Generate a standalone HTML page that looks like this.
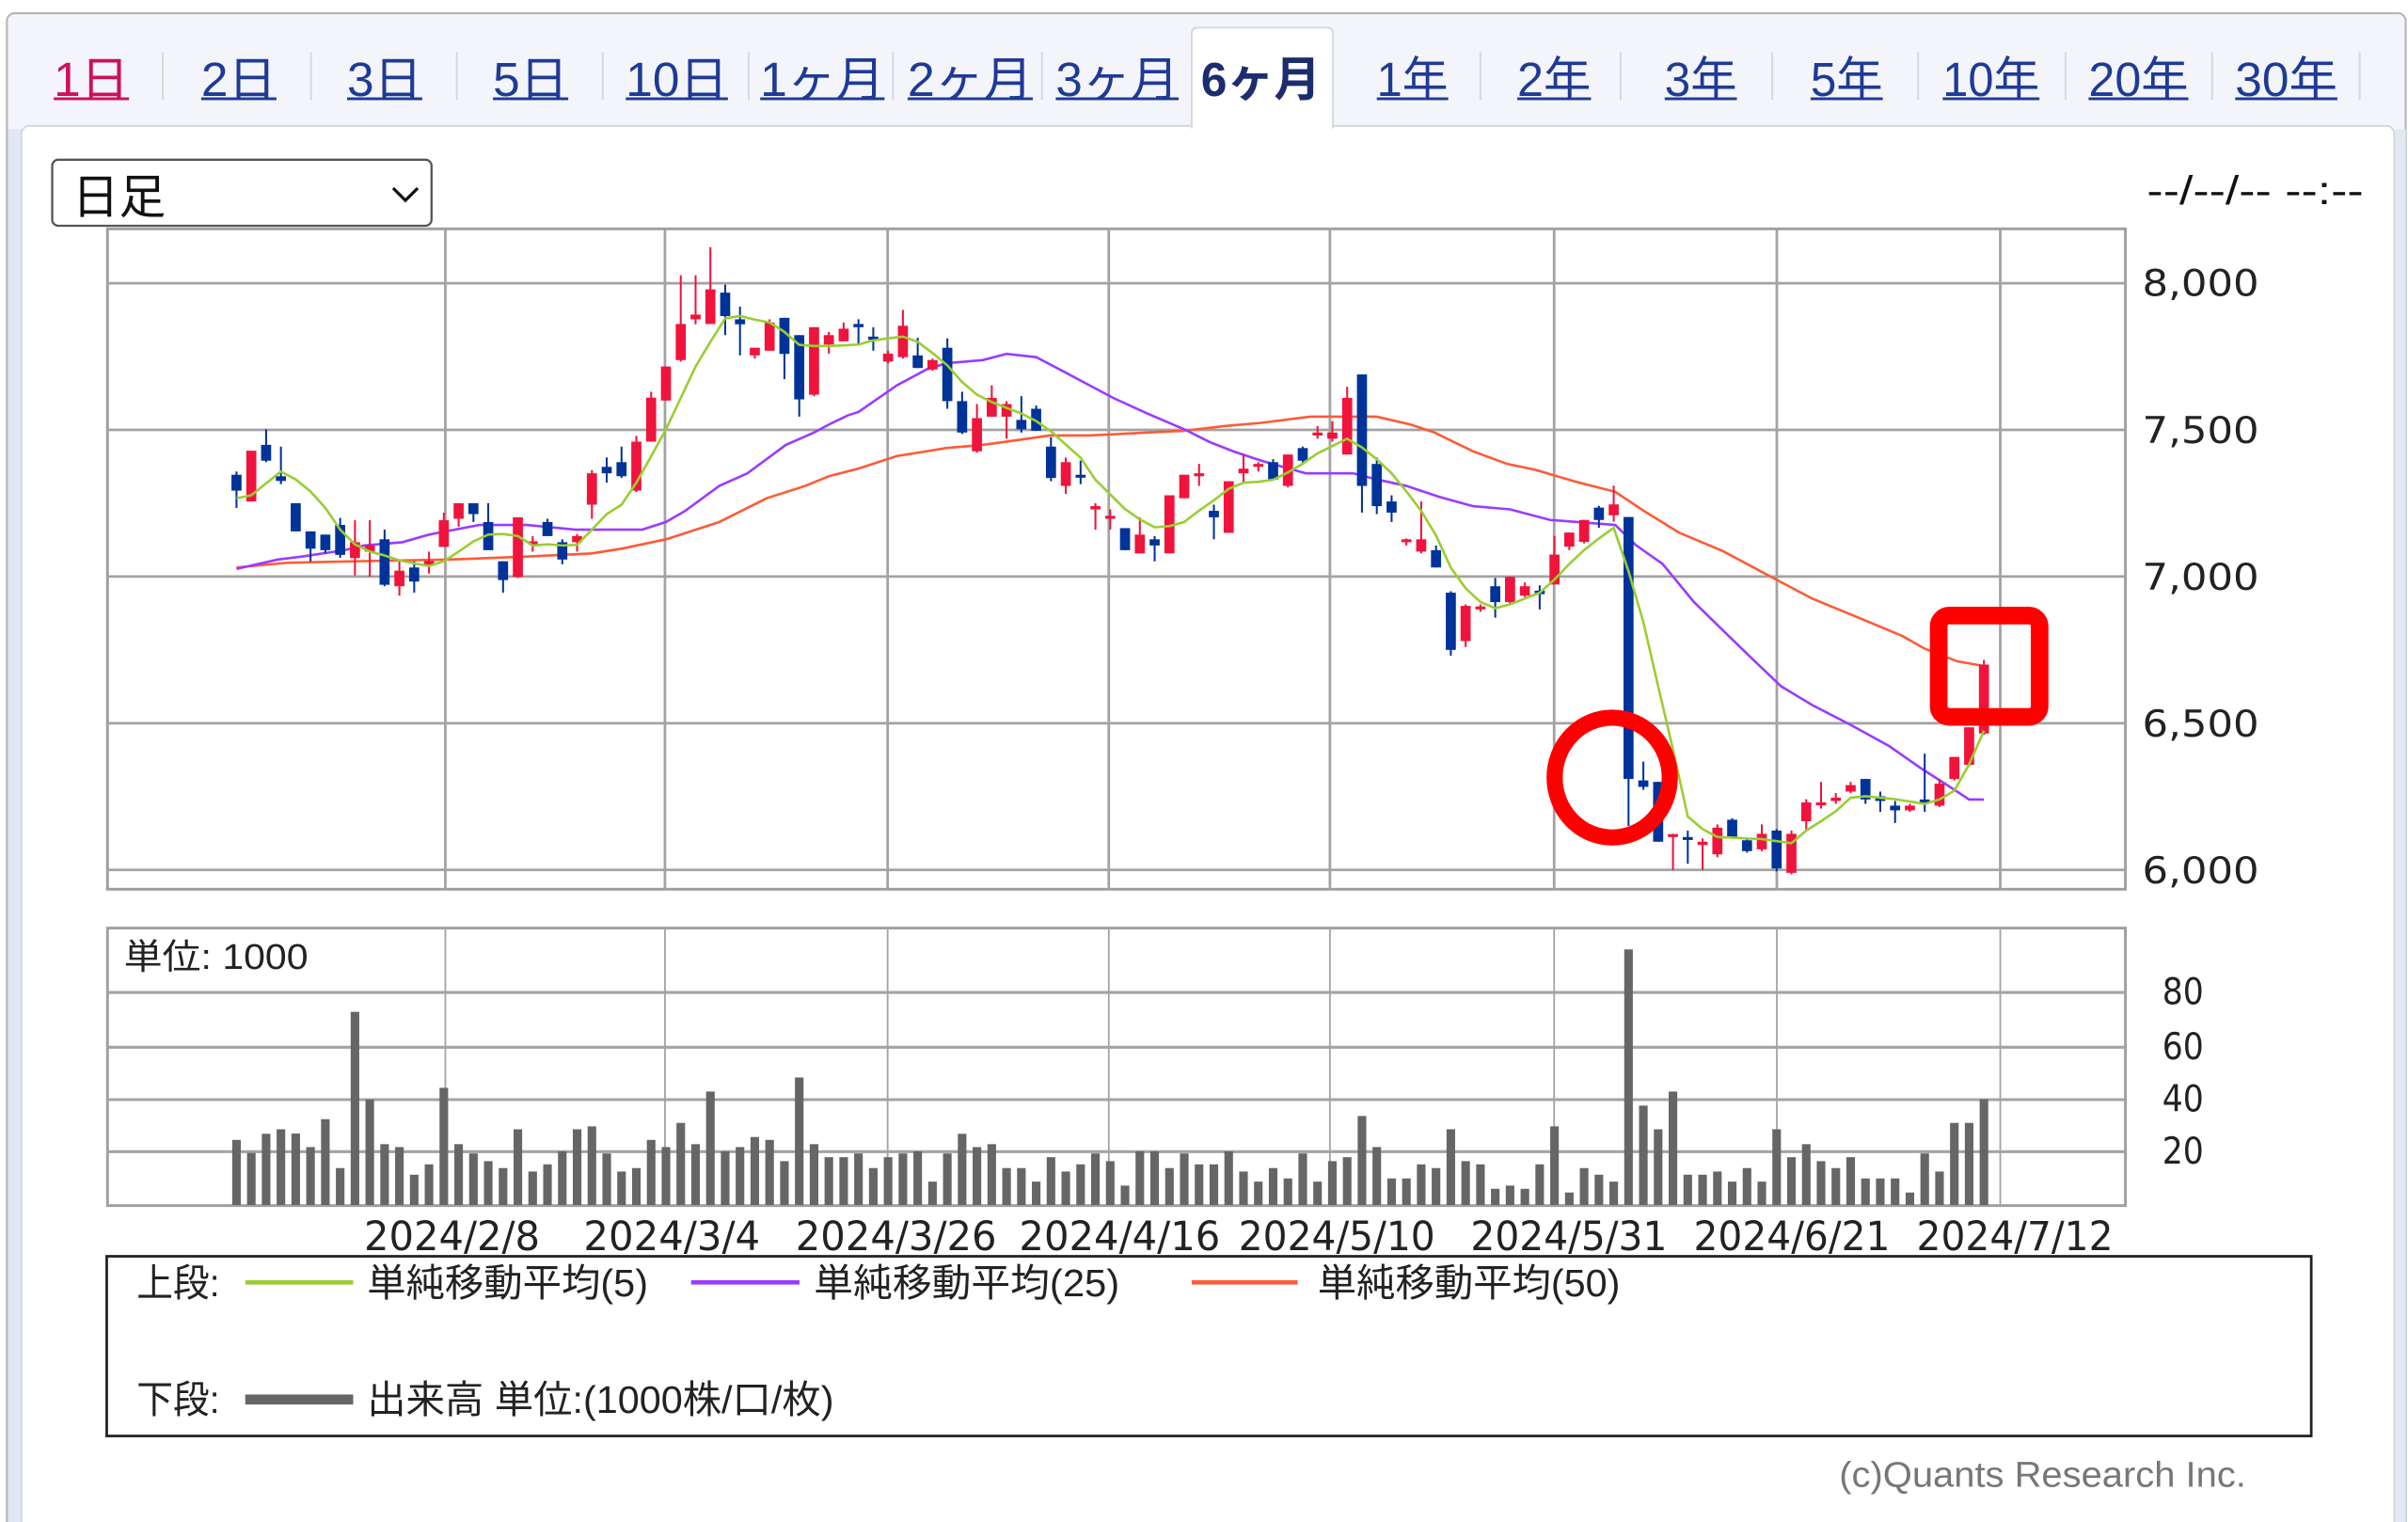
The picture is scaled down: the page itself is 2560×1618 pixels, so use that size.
<!DOCTYPE html>
<html><head><meta charset="utf-8"><style>
html,body{margin:0;padding:0;background:#fff;}
svg{display:block;}
.t{font-family:"Liberation Sans","Noto Sans CJK JP",sans-serif;}
.n{font-family:"DejaVu Sans","Liberation Sans",sans-serif;}
</style></head><body>
<svg width="2560" height="1618" viewBox="0 0 1568 991" xmlns="http://www.w3.org/2000/svg">
<rect x="0" y="0" width="1568" height="991" fill="#fff"/>
<rect x="4.5" y="8.6" width="1562" height="1000" rx="5" fill="#f3f5fa" stroke="#b5b5b5" stroke-width="1.3"/>
<rect x="5.2" y="84" width="8.8" height="910" fill="#dfe7f4"/>
<rect x="1559" y="84" width="7.6" height="910" fill="#e3e9f4"/>
<rect x="14" y="82" width="1545" height="930" rx="5" fill="#fff" stroke="#d3d8e0" stroke-width="1.2"/>
<path d="M776,83 L776,22 Q776,18 780,18 L864,18 Q868,18 868,22 L868,83 Z" fill="#fff" stroke="#d6d9e0" stroke-width="1.2"/>
<rect x="776.7" y="80" width="90.6" height="5" fill="#fff"/>
<g stroke="#d7d9de" stroke-width="1.3">
<line x1="106" y1="34" x2="106" y2="65"/><line x1="202.5" y1="34" x2="202.5" y2="65"/><line x1="297.5" y1="34" x2="297.5" y2="65"/><line x1="392.5" y1="34" x2="392.5" y2="65"/><line x1="487.5" y1="34" x2="487.5" y2="65"/><line x1="581.5" y1="34" x2="581.5" y2="65"/><line x1="678.5" y1="34" x2="678.5" y2="65"/><line x1="964" y1="34" x2="964" y2="65"/><line x1="1055.3" y1="34" x2="1055.3" y2="65"/><line x1="1154" y1="34" x2="1154" y2="65"/><line x1="1249" y1="34" x2="1249" y2="65"/><line x1="1345" y1="34" x2="1345" y2="65"/><line x1="1440.5" y1="34" x2="1440.5" y2="65"/><line x1="1536.5" y1="34" x2="1536.5" y2="65"/>
</g>
<g class="t" font-size="31">
<text x="35" y="62.5" textLength="49" lengthAdjust="spacingAndGlyphs" fill="#cc1157">1日</text>
<rect x="35" y="63.4" width="49" height="1.8" fill="#cc1157"/>
<g fill="#1f3a96">
<text x="131" y="62.5" textLength="49" lengthAdjust="spacingAndGlyphs">2日</text><rect x="131" y="63.4" width="49" height="1.8"/>
<text x="226" y="62.5" textLength="49" lengthAdjust="spacingAndGlyphs">3日</text><rect x="226" y="63.4" width="49" height="1.8"/>
<text x="321" y="62.5" textLength="49" lengthAdjust="spacingAndGlyphs">5日</text><rect x="321" y="63.4" width="49" height="1.8"/>
<text x="407.5" y="62.5" textLength="66.5" lengthAdjust="spacingAndGlyphs">10日</text><rect x="407.5" y="63.4" width="66.5" height="1.8"/>
<text x="495" y="62.5" textLength="81" lengthAdjust="spacingAndGlyphs">1ヶ月</text><rect x="495" y="63.4" width="81" height="1.8"/>
<text x="591" y="62.5" textLength="81.5" lengthAdjust="spacingAndGlyphs">2ヶ月</text><rect x="591" y="63.4" width="81.5" height="1.8"/>
<text x="687.5" y="62.5" textLength="80" lengthAdjust="spacingAndGlyphs">3ヶ月</text><rect x="687.5" y="63.4" width="80" height="1.8"/>
<text x="896.5" y="62.5" textLength="46.5" lengthAdjust="spacingAndGlyphs">1年</text><rect x="896.5" y="63.4" width="46.5" height="1.8"/>
<text x="988" y="62.5" textLength="48" lengthAdjust="spacingAndGlyphs">2年</text><rect x="988" y="63.4" width="48" height="1.8"/>
<text x="1084" y="62.5" textLength="47" lengthAdjust="spacingAndGlyphs">3年</text><rect x="1084" y="63.4" width="47" height="1.8"/>
<text x="1179" y="62.5" textLength="47" lengthAdjust="spacingAndGlyphs">5年</text><rect x="1179" y="63.4" width="47" height="1.8"/>
<text x="1265" y="62.5" textLength="63" lengthAdjust="spacingAndGlyphs">10年</text><rect x="1265" y="63.4" width="63" height="1.8"/>
<text x="1360" y="62.5" textLength="65" lengthAdjust="spacingAndGlyphs">20年</text><rect x="1360" y="63.4" width="65" height="1.8"/>
<text x="1455.5" y="62.5" textLength="66.5" lengthAdjust="spacingAndGlyphs">30年</text><rect x="1455.5" y="63.4" width="66.5" height="1.8"/>
</g>
<text x="782" y="62.5" textLength="78" lengthAdjust="spacingAndGlyphs" fill="#1b2d6e" font-weight="bold">6ヶ月</text>
</g>
<rect x="34" y="104" width="247" height="43" rx="4" fill="#fff" stroke="#555" stroke-width="1.4"/>
<text class="t" x="47" y="139" font-size="31" fill="#111" textLength="61" lengthAdjust="spacingAndGlyphs">日足</text>
<polyline points="256,122.5 264,130.5 272,122.5" fill="none" stroke="#111" stroke-width="2"/>
<text class="t" x="1398" y="133" font-size="26" fill="#111" textLength="141" lengthAdjust="spacingAndGlyphs">--/--/-- --:--</text>
<rect x="70" y="149" width="1314" height="430" fill="#fff" stroke="#9f9f9f" stroke-width="1.8"/>
<g stroke="#a3a3a3" stroke-width="1.7">
<line x1="70" y1="184.4" x2="1384" y2="184.4"/><line x1="70" y1="279.9" x2="1384" y2="279.9"/><line x1="70" y1="375.4" x2="1384" y2="375.4"/><line x1="70" y1="470.9" x2="1384" y2="470.9"/><line x1="70" y1="566.4" x2="1384" y2="566.4"/>
<line x1="290" y1="149" x2="290" y2="579"/><line x1="433" y1="149" x2="433" y2="579"/><line x1="578" y1="149" x2="578" y2="579"/><line x1="722" y1="149" x2="722" y2="579"/><line x1="866" y1="149" x2="866" y2="579"/><line x1="1012" y1="149" x2="1012" y2="579"/><line x1="1157" y1="149" x2="1157" y2="579"/><line x1="1302.5" y1="149" x2="1302.5" y2="579"/>
</g>
<g class="n" font-size="24" fill="#222">
<text x="1395" y="192.7" textLength="76" lengthAdjust="spacingAndGlyphs">8,000</text>
<text x="1395" y="288.6" textLength="76" lengthAdjust="spacingAndGlyphs">7,500</text>
<text x="1395" y="384.1" textLength="76" lengthAdjust="spacingAndGlyphs">7,000</text>
<text x="1395" y="479.6" textLength="76" lengthAdjust="spacingAndGlyphs">6,500</text>
<text x="1395" y="575.1" textLength="76" lengthAdjust="spacingAndGlyphs">6,000</text>
</g>
<g transform="translate(154,375.4) scale(9.643,-0.191) translate(0,-7000)">
<polyline fill="none" stroke="#ff5a36" stroke-width="2.6" vector-effect="non-scaling-stroke" points="0,7031 3.4,7047 8,7052 14.4,7058 19.6,7068 24,7079 26,7095 29,7127 32.6,7186 35.8,7267 38.4,7309 40,7342 42,7368 44.6,7411 46.6,7427 47.9,7438 50.4,7449 52.7,7465 54.9,7481 57.6,7481 61.5,7491 64,7497 66.7,7513 69.2,7524 72.5,7545 75.4,7545 77,7545 79.3,7518 80.9,7491 83.5,7427 85.8,7384 87.7,7364 90.6,7321 93.1,7289 95,7225 97.4,7150 100.4,7086 104,6989 106.4,6925 110,6850 112.5,6797 114,6754 116.2,6711 118,6695"/>
<polyline fill="none" stroke="#9b3bff" stroke-width="2.6" vector-effect="non-scaling-stroke" points="0,7026 2.8,7058 4.4,7068 7.3,7090 8.6,7106 11.2,7117 13,7143 16.4,7176 19.6,7176 22.9,7160 27.4,7160 29,7186 30.3,7224 32.6,7309 34.5,7352 37.1,7449 39,7491 40,7518 41.3,7550 42,7561 44.6,7652 46.6,7706 47.9,7727 50.4,7738 52,7759 54,7748 56,7695 59.2,7609 61.5,7556 64,7502 65.7,7459 67.3,7427 69.2,7395 72.2,7352 75.4,7352 77,7331 79,7309 81.2,7272 83.5,7240 86,7229 88.7,7193 93.1,7176 94.5,7107 96.3,7043 98.4,6914 99.9,6840 102.3,6722 104.3,6626 106.4,6562 108.9,6497 111.6,6422 113.7,6348 115.7,6283 117,6240 118,6240"/>
<g fill="#f0143c">
<rect x="0.935" y="7256" width="0.13" height="173"/><rect x="0.66" y="7256" width="0.68" height="173"/>
<rect x="7.935" y="7004" width="0.13" height="188"/><rect x="7.66" y="7063" width="0.68" height="54"/>
<rect x="8.935" y="7000" width="0.13" height="192"/><rect x="8.66" y="7085" width="0.68" height="21"/>
<rect x="10.935" y="6935" width="0.13" height="117"/><rect x="10.66" y="6967" width="0.68" height="53"/>
<rect x="12.935" y="7010" width="0.13" height="75"/><rect x="12.66" y="7037" width="0.68" height="16"/>
<rect x="13.935" y="7101" width="0.13" height="117"/><rect x="13.66" y="7101" width="0.68" height="91"/>
<rect x="14.935" y="7170" width="0.13" height="80"/><rect x="14.66" y="7197" width="0.68" height="53"/>
<rect x="18.935" y="6995" width="0.13" height="207"/><rect x="18.66" y="6999" width="0.68" height="203"/>
<rect x="19.935" y="7085" width="0.13" height="53"/><rect x="19.66" y="7110" width="0.68" height="10"/>
<rect x="22.935" y="7085" width="0.13" height="60"/><rect x="22.66" y="7117" width="0.68" height="21"/>
<rect x="23.935" y="7197" width="0.13" height="166"/><rect x="23.66" y="7245" width="0.68" height="107"/>
<rect x="26.935" y="7288" width="0.13" height="192"/><rect x="26.66" y="7293" width="0.68" height="167"/>
<rect x="27.935" y="7460" width="0.13" height="170"/><rect x="27.66" y="7460" width="0.68" height="150"/>
<rect x="28.935" y="7600" width="0.13" height="116"/><rect x="28.66" y="7600" width="0.68" height="116"/>
<rect x="29.935" y="7733" width="0.13" height="294"/><rect x="29.66" y="7738" width="0.68" height="123"/>
<rect x="30.935" y="7860" width="0.13" height="167"/><rect x="30.66" y="7877" width="0.68" height="16"/>
<rect x="31.935" y="7861" width="0.13" height="262"/><rect x="31.66" y="7861" width="0.68" height="118"/>
<rect x="34.935" y="7743" width="0.13" height="37"/><rect x="34.66" y="7754" width="0.68" height="26"/>
<rect x="35.935" y="7770" width="0.13" height="107"/><rect x="35.66" y="7770" width="0.68" height="96"/>
<rect x="38.935" y="7615" width="0.13" height="235"/><rect x="38.66" y="7620" width="0.68" height="230"/>
<rect x="39.935" y="7760" width="0.13" height="74"/><rect x="39.66" y="7791" width="0.68" height="32"/>
<rect x="40.935" y="7802" width="0.13" height="64"/><rect x="40.66" y="7802" width="0.68" height="43"/>
<rect x="43.935" y="7727" width="0.13" height="43"/><rect x="43.66" y="7733" width="0.68" height="27"/>
<rect x="44.935" y="7743" width="0.13" height="166"/><rect x="44.66" y="7748" width="0.68" height="107"/>
<rect x="46.935" y="7701" width="0.13" height="42"/><rect x="46.66" y="7706" width="0.68" height="32"/>
<rect x="49.935" y="7422" width="0.13" height="166"/><rect x="49.66" y="7427" width="0.68" height="113"/>
<rect x="50.935" y="7545" width="0.13" height="107"/><rect x="50.66" y="7545" width="0.68" height="64"/>
<rect x="51.935" y="7470" width="0.13" height="128"/><rect x="51.66" y="7545" width="0.68" height="43"/>
<rect x="55.935" y="7282" width="0.13" height="124"/><rect x="55.66" y="7309" width="0.68" height="81"/>
<rect x="57.935" y="7160" width="0.13" height="90"/><rect x="57.66" y="7229" width="0.68" height="11"/>
<rect x="58.935" y="7160" width="0.13" height="69"/><rect x="58.66" y="7197" width="0.68" height="10"/>
<rect x="60.935" y="7079" width="0.13" height="123"/><rect x="60.66" y="7079" width="0.68" height="64"/>
<rect x="62.935" y="7079" width="0.13" height="198"/><rect x="62.66" y="7079" width="0.68" height="198"/>
<rect x="63.935" y="7267" width="0.13" height="80"/><rect x="63.66" y="7267" width="0.68" height="80"/>
<rect x="64.935" y="7309" width="0.13" height="75"/><rect x="64.66" y="7342" width="0.68" height="10"/>
<rect x="66.935" y="7149" width="0.13" height="176"/><rect x="66.66" y="7149" width="0.68" height="176"/>
<rect x="67.935" y="7320" width="0.13" height="96"/><rect x="67.66" y="7352" width="0.68" height="16"/>
<rect x="68.935" y="7358" width="0.13" height="32"/><rect x="68.66" y="7374" width="0.68" height="10"/>
<rect x="70.935" y="7304" width="0.13" height="112"/><rect x="70.66" y="7309" width="0.68" height="107"/>
<rect x="72.935" y="7470" width="0.13" height="43"/><rect x="72.66" y="7481" width="0.68" height="10"/>
<rect x="73.935" y="7460" width="0.13" height="70"/><rect x="73.66" y="7470" width="0.68" height="21"/>
<rect x="74.935" y="7416" width="0.13" height="231"/><rect x="74.66" y="7416" width="0.68" height="193"/>
<rect x="78.935" y="7106" width="0.13" height="24"/><rect x="78.66" y="7117" width="0.68" height="10"/>
<rect x="79.935" y="7079" width="0.13" height="177"/><rect x="79.66" y="7085" width="0.68" height="42"/>
<rect x="82.935" y="6760" width="0.13" height="145"/><rect x="82.66" y="6780" width="0.68" height="120"/>
<rect x="83.935" y="6880" width="0.13" height="25"/><rect x="83.66" y="6888" width="0.68" height="10"/>
<rect x="85.935" y="6905" width="0.13" height="95"/><rect x="85.66" y="6913" width="0.68" height="86"/>
<rect x="86.935" y="6930" width="0.13" height="50"/><rect x="86.66" y="6935" width="0.68" height="32"/>
<rect x="88.935" y="6973" width="0.13" height="166"/><rect x="88.66" y="6973" width="0.68" height="102"/>
<rect x="89.935" y="7090" width="0.13" height="60"/><rect x="89.66" y="7102" width="0.68" height="48"/>
<rect x="90.935" y="7113" width="0.13" height="80"/><rect x="90.66" y="7118" width="0.68" height="75"/>
<rect x="92.935" y="7187" width="0.13" height="123"/><rect x="92.66" y="7209" width="0.68" height="37"/>
<rect x="96.935" y="6000" width="0.13" height="123"/><rect x="96.66" y="6112" width="0.68" height="10"/>
<rect x="98.935" y="6000" width="0.13" height="107"/><rect x="98.66" y="6085" width="0.68" height="11"/>
<rect x="99.935" y="6043" width="0.13" height="112"/><rect x="99.66" y="6053" width="0.68" height="91"/>
<rect x="102.935" y="6064" width="0.13" height="91"/><rect x="102.66" y="6070" width="0.68" height="53"/>
<rect x="104.935" y="5985" width="0.13" height="149"/><rect x="104.66" y="5990" width="0.68" height="133"/>
<rect x="105.935" y="6134" width="0.13" height="107"/><rect x="105.66" y="6166" width="0.68" height="64"/>
<rect x="106.935" y="6209" width="0.13" height="91"/><rect x="106.66" y="6220" width="0.68" height="10"/>
<rect x="107.935" y="6225" width="0.13" height="37"/><rect x="107.66" y="6235" width="0.68" height="11"/>
<rect x="108.935" y="6262" width="0.13" height="38"/><rect x="108.66" y="6267" width="0.68" height="22"/>
<rect x="112.935" y="6198" width="0.13" height="27"/><rect x="112.66" y="6203" width="0.68" height="16"/>
<rect x="114.935" y="6214" width="0.13" height="96"/><rect x="114.66" y="6219" width="0.68" height="75"/>
<rect x="115.935" y="6305" width="0.13" height="80"/><rect x="115.66" y="6310" width="0.68" height="75"/>
<rect x="116.935" y="6353" width="0.13" height="133"/><rect x="116.66" y="6358" width="0.68" height="128"/>
<rect x="117.935" y="6460" width="0.13" height="256"/><rect x="117.66" y="6465" width="0.68" height="235"/>
</g>
<g fill="#003399">
<rect x="-0.065" y="7234" width="0.13" height="124"/><rect x="-0.34" y="7293" width="0.68" height="54"/>
<rect x="1.935" y="7390" width="0.13" height="112"/><rect x="1.66" y="7395" width="0.68" height="54"/>
<rect x="2.935" y="7315" width="0.13" height="128"/><rect x="2.66" y="7326" width="0.68" height="16"/>
<rect x="3.935" y="7154" width="0.13" height="96"/><rect x="3.66" y="7154" width="0.68" height="96"/>
<rect x="4.935" y="7052" width="0.13" height="102"/><rect x="4.66" y="7095" width="0.68" height="59"/>
<rect x="5.935" y="7080" width="0.13" height="63"/><rect x="5.66" y="7090" width="0.68" height="53"/>
<rect x="6.935" y="7064" width="0.13" height="136"/><rect x="6.66" y="7074" width="0.68" height="102"/>
<rect x="9.935" y="6967" width="0.13" height="193"/><rect x="9.66" y="6972" width="0.68" height="155"/>
<rect x="11.935" y="6945" width="0.13" height="107"/><rect x="11.66" y="6983" width="0.68" height="48"/>
<rect x="15.935" y="7186" width="0.13" height="64"/><rect x="15.66" y="7213" width="0.68" height="37"/>
<rect x="16.935" y="7090" width="0.13" height="160"/><rect x="16.66" y="7090" width="0.68" height="96"/>
<rect x="17.935" y="6945" width="0.13" height="107"/><rect x="17.66" y="6988" width="0.68" height="64"/>
<rect x="20.935" y="7138" width="0.13" height="59"/><rect x="20.66" y="7138" width="0.68" height="48"/>
<rect x="21.935" y="7042" width="0.13" height="85"/><rect x="21.66" y="7058" width="0.68" height="59"/>
<rect x="24.935" y="7320" width="0.13" height="86"/><rect x="24.66" y="7352" width="0.68" height="22"/>
<rect x="25.935" y="7336" width="0.13" height="107"/><rect x="25.66" y="7342" width="0.68" height="48"/>
<rect x="32.935" y="7823" width="0.13" height="172"/><rect x="32.66" y="7888" width="0.68" height="80"/>
<rect x="33.935" y="7754" width="0.13" height="166"/><rect x="33.66" y="7860" width="0.68" height="17"/>
<rect x="36.935" y="7673" width="0.13" height="209"/><rect x="36.66" y="7759" width="0.68" height="123"/>
<rect x="37.935" y="7545" width="0.13" height="278"/><rect x="37.66" y="7604" width="0.68" height="219"/>
<rect x="41.935" y="7791" width="0.13" height="86"/><rect x="41.66" y="7850" width="0.68" height="11"/>
<rect x="42.935" y="7770" width="0.13" height="80"/><rect x="42.66" y="7807" width="0.68" height="11"/>
<rect x="45.935" y="7711" width="0.13" height="103"/><rect x="45.66" y="7711" width="0.68" height="43"/>
<rect x="47.935" y="7572" width="0.13" height="240"/><rect x="47.66" y="7598" width="0.68" height="182"/>
<rect x="48.935" y="7486" width="0.13" height="144"/><rect x="48.66" y="7491" width="0.68" height="107"/>
<rect x="52.935" y="7491" width="0.13" height="124"/><rect x="52.66" y="7502" width="0.68" height="32"/>
<rect x="53.935" y="7497" width="0.13" height="86"/><rect x="53.66" y="7497" width="0.68" height="75"/>
<rect x="54.935" y="7325" width="0.13" height="150"/><rect x="54.66" y="7336" width="0.68" height="107"/>
<rect x="56.935" y="7315" width="0.13" height="80"/><rect x="56.66" y="7337" width="0.68" height="10"/>
<rect x="59.935" y="7090" width="0.13" height="75"/><rect x="59.66" y="7090" width="0.68" height="75"/>
<rect x="61.935" y="7052" width="0.13" height="86"/><rect x="61.66" y="7106" width="0.68" height="21"/>
<rect x="65.935" y="7127" width="0.13" height="118"/><rect x="65.66" y="7202" width="0.68" height="22"/>
<rect x="69.935" y="7331" width="0.13" height="69"/><rect x="69.66" y="7331" width="0.68" height="59"/>
<rect x="71.935" y="7384" width="0.13" height="59"/><rect x="71.66" y="7395" width="0.68" height="43"/>
<rect x="75.935" y="7218" width="0.13" height="471"/><rect x="75.66" y="7309" width="0.68" height="380"/>
<rect x="76.935" y="7213" width="0.13" height="193"/><rect x="76.66" y="7240" width="0.68" height="144"/>
<rect x="77.935" y="7186" width="0.13" height="91"/><rect x="77.66" y="7218" width="0.68" height="38"/>
<rect x="80.935" y="7031" width="0.13" height="75"/><rect x="80.66" y="7031" width="0.68" height="59"/>
<rect x="81.935" y="6730" width="0.13" height="220"/><rect x="81.66" y="6750" width="0.68" height="195"/>
<rect x="84.935" y="6860" width="0.13" height="135"/><rect x="84.66" y="6913" width="0.68" height="54"/>
<rect x="87.935" y="6888" width="0.13" height="82"/><rect x="87.66" y="6940" width="0.68" height="12"/>
<rect x="91.935" y="7166" width="0.13" height="75"/><rect x="91.66" y="7193" width="0.68" height="42"/>
<rect x="93.935" y="6150" width="0.13" height="1053"/><rect x="93.66" y="6310" width="0.68" height="893"/>
<rect x="94.935" y="6273" width="0.13" height="96"/><rect x="94.66" y="6283" width="0.68" height="22"/>
<rect x="95.935" y="6096" width="0.13" height="204"/><rect x="95.66" y="6096" width="0.68" height="204"/>
<rect x="97.935" y="6021" width="0.13" height="113"/><rect x="97.66" y="6102" width="0.68" height="10"/>
<rect x="100.935" y="6107" width="0.13" height="69"/><rect x="100.66" y="6112" width="0.68" height="59"/>
<rect x="101.935" y="6059" width="0.13" height="48"/><rect x="101.66" y="6064" width="0.68" height="37"/>
<rect x="103.935" y="5995" width="0.13" height="144"/><rect x="103.66" y="6005" width="0.68" height="129"/>
<rect x="109.935" y="6225" width="0.13" height="85"/><rect x="109.66" y="6240" width="0.68" height="70"/>
<rect x="110.935" y="6198" width="0.13" height="69"/><rect x="110.66" y="6235" width="0.68" height="16"/>
<rect x="111.935" y="6160" width="0.13" height="75"/><rect x="111.66" y="6203" width="0.68" height="16"/>
<rect x="113.935" y="6198" width="0.13" height="198"/><rect x="113.66" y="6230" width="0.68" height="10"/>
</g>
<polyline fill="none" stroke="#9acd32" stroke-width="2.6" vector-effect="non-scaling-stroke" points="0,7267 1,7277 2,7318 3,7358 4,7331 5,7290 6,7234 7,7160 8,7110 9,7085 10,7072 11,7055 12,7045 13,7036 14,7052 15,7085 16,7120 17,7143 18,7145 19,7138 20,7106 21,7110 22,7106 23,7108 24,7160 25,7213 26,7245 27,7320 28,7410 29,7502 30,7609 31,7716 32,7800 33,7880 34,7888 35,7876 36,7866 37,7834 38,7790 39,7786 40,7786 41,7788 42,7791 43,7805 44,7812 45,7818 46,7800 47,7762 48,7720 49,7663 50,7620 51,7595 52,7575 53,7556 54,7530 55,7495 56,7450 57,7405 58,7330 59,7280 60,7230 61,7195 62,7168 63,7172 64,7186 65,7225 66,7260 67,7299 68,7320 69,7323 70,7330 71,7355 72,7385 73,7420 74,7445 75,7470 76,7440 77,7400 78,7352 79,7290 80,7224 81,7140 82,7030 83,6960 84,6913 85,6892 86,6905 87,6925 88,6945 89,6990 90,7043 91,7090 92,7130 93,7166 94,7018 95,6845 96,6626 97,6411 98,6182 99,6139 100,6112 101,6110 102,6107 103,6105 104,6098 105,6091 106,6134 107,6166 108,6200 109,6246 110,6251 111,6246 112,6241 113,6233 114,6225 115,6240 116,6270 117,6360 118,6475"/>
</g>
<ellipse cx="1049.8" cy="506.3" rx="37.5" ry="39" fill="none" stroke="#ff0000" stroke-width="10.5"/>
<rect x="1262.4" y="400.8" width="65.7" height="66" rx="7" fill="none" stroke="#ff0000" stroke-width="11.5"/>
<rect x="70" y="604.3" width="1314" height="180.7" fill="#fff" stroke="#9f9f9f" stroke-width="1.8"/>
<g stroke="#a3a3a3">
<g stroke-width="1.9"><line x1="70" y1="646.2" x2="1384" y2="646.2"/><line x1="70" y1="681.9" x2="1384" y2="681.9"/><line x1="70" y1="716" x2="1384" y2="716"/><line x1="70" y1="749.9" x2="1384" y2="749.9"/></g>
<g stroke-width="1.1"><line x1="290" y1="604.3" x2="290" y2="785"/><line x1="433" y1="604.3" x2="433" y2="785"/><line x1="578" y1="604.3" x2="578" y2="785"/><line x1="722" y1="604.3" x2="722" y2="785"/><line x1="866" y1="604.3" x2="866" y2="785"/><line x1="1012" y1="604.3" x2="1012" y2="785"/><line x1="1157" y1="604.3" x2="1157" y2="785"/><line x1="1302.5" y1="604.3" x2="1302.5" y2="785"/></g>
</g>
<g transform="translate(154,784.6) scale(9.643,-1.73)" fill="#666">
<rect x="-0.29" y="0" width="0.58" height="24.5"/><rect x="0.71" y="0" width="0.58" height="19.6"/><rect x="1.71" y="0" width="0.58" height="26.8"/><rect x="2.71" y="0" width="0.58" height="28.5"/><rect x="3.71" y="0" width="0.58" height="26.9"/><rect x="4.71" y="0" width="0.58" height="21.8"/><rect x="5.71" y="0" width="0.58" height="32.3"/><rect x="6.71" y="0" width="0.58" height="13.9"/><rect x="7.71" y="0" width="0.58" height="72.7"/><rect x="8.71" y="0" width="0.58" height="39.7"/>
<rect x="9.71" y="0" width="0.58" height="22.9"/><rect x="10.71" y="0" width="0.58" height="21.8"/><rect x="11.71" y="0" width="0.58" height="11.4"/><rect x="12.71" y="0" width="0.58" height="15.3"/><rect x="13.71" y="0" width="0.58" height="44.1"/><rect x="14.71" y="0" width="0.58" height="22.9"/><rect x="15.71" y="0" width="0.58" height="19.4"/><rect x="16.71" y="0" width="0.58" height="16.5"/><rect x="17.71" y="0" width="0.58" height="13.9"/><rect x="18.71" y="0" width="0.58" height="28.5"/>
<rect x="19.71" y="0" width="0.58" height="12.6"/><rect x="20.71" y="0" width="0.58" height="15.3"/><rect x="21.71" y="0" width="0.58" height="20.2"/><rect x="22.71" y="0" width="0.58" height="28.5"/><rect x="23.71" y="0" width="0.58" height="29.6"/><rect x="24.71" y="0" width="0.58" height="19.4"/><rect x="25.71" y="0" width="0.58" height="12.6"/><rect x="26.71" y="0" width="0.58" height="13.9"/><rect x="27.71" y="0" width="0.58" height="24.5"/><rect x="28.71" y="0" width="0.58" height="21.8"/>
<rect x="29.71" y="0" width="0.58" height="30.9"/><rect x="30.71" y="0" width="0.58" height="22.9"/><rect x="31.71" y="0" width="0.58" height="42.7"/><rect x="32.71" y="0" width="0.58" height="20.2"/><rect x="33.71" y="0" width="0.58" height="21.8"/><rect x="34.71" y="0" width="0.58" height="25.6"/><rect x="35.71" y="0" width="0.58" height="24.5"/><rect x="36.71" y="0" width="0.58" height="16.5"/><rect x="37.71" y="0" width="0.58" height="48"/><rect x="38.71" y="0" width="0.58" height="22.9"/>
<rect x="39.71" y="0" width="0.58" height="18"/><rect x="40.71" y="0" width="0.58" height="18"/><rect x="41.71" y="0" width="0.58" height="19.4"/><rect x="42.71" y="0" width="0.58" height="13.9"/><rect x="43.71" y="0" width="0.58" height="18"/><rect x="44.71" y="0" width="0.58" height="19.4"/><rect x="45.71" y="0" width="0.58" height="20.2"/><rect x="46.71" y="0" width="0.58" height="8.8"/><rect x="47.71" y="0" width="0.58" height="19.4"/><rect x="48.71" y="0" width="0.58" height="26.8"/>
<rect x="49.71" y="0" width="0.58" height="21.8"/><rect x="50.71" y="0" width="0.58" height="22.9"/><rect x="51.71" y="0" width="0.58" height="13.9"/><rect x="52.71" y="0" width="0.58" height="13.9"/><rect x="53.71" y="0" width="0.58" height="8.8"/><rect x="54.71" y="0" width="0.58" height="18"/><rect x="55.71" y="0" width="0.58" height="12.6"/><rect x="56.71" y="0" width="0.58" height="15.3"/><rect x="57.71" y="0" width="0.58" height="19.4"/><rect x="58.71" y="0" width="0.58" height="16.5"/>
<rect x="59.71" y="0" width="0.58" height="7.3"/><rect x="60.71" y="0" width="0.58" height="20.2"/><rect x="61.71" y="0" width="0.58" height="20.2"/><rect x="62.71" y="0" width="0.58" height="13.9"/><rect x="63.71" y="0" width="0.58" height="19.4"/><rect x="64.71" y="0" width="0.58" height="15.3"/><rect x="65.71" y="0" width="0.58" height="15.3"/><rect x="66.71" y="0" width="0.58" height="20.2"/><rect x="67.71" y="0" width="0.58" height="12.6"/><rect x="68.71" y="0" width="0.58" height="8.8"/>
<rect x="69.71" y="0" width="0.58" height="13.9"/><rect x="70.71" y="0" width="0.58" height="10"/><rect x="71.71" y="0" width="0.58" height="19.4"/><rect x="72.71" y="0" width="0.58" height="8.8"/><rect x="73.71" y="0" width="0.58" height="16.5"/><rect x="74.71" y="0" width="0.58" height="18"/><rect x="75.71" y="0" width="0.58" height="33.5"/><rect x="76.71" y="0" width="0.58" height="21.8"/><rect x="77.71" y="0" width="0.58" height="10"/><rect x="78.71" y="0" width="0.58" height="10"/>
<rect x="79.71" y="0" width="0.58" height="15.3"/><rect x="80.71" y="0" width="0.58" height="13.9"/><rect x="81.71" y="0" width="0.58" height="28.5"/><rect x="82.71" y="0" width="0.58" height="16.5"/><rect x="83.71" y="0" width="0.58" height="15.3"/><rect x="84.71" y="0" width="0.58" height="6.1"/><rect x="85.71" y="0" width="0.58" height="7.3"/><rect x="86.71" y="0" width="0.58" height="6.1"/><rect x="87.71" y="0" width="0.58" height="15.3"/><rect x="88.71" y="0" width="0.58" height="29.6"/>
<rect x="89.71" y="0" width="0.58" height="4.7"/><rect x="90.71" y="0" width="0.58" height="13.9"/><rect x="91.71" y="0" width="0.58" height="11.4"/><rect x="92.71" y="0" width="0.58" height="8.8"/><rect x="93.71" y="0" width="0.58" height="96.2"/><rect x="94.71" y="0" width="0.58" height="37.4"/><rect x="95.71" y="0" width="0.58" height="28.5"/><rect x="96.71" y="0" width="0.58" height="42.7"/><rect x="97.71" y="0" width="0.58" height="11.4"/><rect x="98.71" y="0" width="0.58" height="11.4"/>
<rect x="99.71" y="0" width="0.58" height="12.6"/><rect x="100.71" y="0" width="0.58" height="8.8"/><rect x="101.71" y="0" width="0.58" height="13.9"/><rect x="102.71" y="0" width="0.58" height="8.8"/><rect x="103.71" y="0" width="0.58" height="28.5"/><rect x="104.71" y="0" width="0.58" height="18"/><rect x="105.71" y="0" width="0.58" height="22.9"/><rect x="106.71" y="0" width="0.58" height="16.5"/><rect x="107.71" y="0" width="0.58" height="13.9"/><rect x="108.71" y="0" width="0.58" height="18"/>
<rect x="109.71" y="0" width="0.58" height="10"/><rect x="110.71" y="0" width="0.58" height="10"/><rect x="111.71" y="0" width="0.58" height="10"/><rect x="112.71" y="0" width="0.58" height="4.7"/><rect x="113.71" y="0" width="0.58" height="19.4"/><rect x="114.71" y="0" width="0.58" height="12.6"/><rect x="115.71" y="0" width="0.58" height="30.9"/><rect x="116.71" y="0" width="0.58" height="30.9"/><rect x="117.71" y="0" width="0.58" height="39.8"/>
</g>
<text class="t" x="80.6" y="631" font-size="23" fill="#222" textLength="120" lengthAdjust="spacingAndGlyphs">単位: 1000</text>
<g class="n" font-size="24" fill="#222">
<text x="1408" y="653.8" textLength="27" lengthAdjust="spacingAndGlyphs">80</text>
<text x="1408" y="689.8" textLength="27" lengthAdjust="spacingAndGlyphs">60</text>
<text x="1408" y="723.8" textLength="27" lengthAdjust="spacingAndGlyphs">40</text>
<text x="1408" y="757.8" textLength="27" lengthAdjust="spacingAndGlyphs">20</text>
</g>
<g class="n" font-size="26" fill="#222">
<text x="237" y="814" textLength="114.6" lengthAdjust="spacingAndGlyphs">2024/2/8</text>
<text x="380" y="814" textLength="115" lengthAdjust="spacingAndGlyphs">2024/3/4</text>
<text x="518" y="814" textLength="131" lengthAdjust="spacingAndGlyphs">2024/3/26</text>
<text x="663.6" y="814" textLength="131" lengthAdjust="spacingAndGlyphs">2024/4/16</text>
<text x="806.5" y="814" textLength="128" lengthAdjust="spacingAndGlyphs">2024/5/10</text>
<text x="957.6" y="814" textLength="128" lengthAdjust="spacingAndGlyphs">2024/5/31</text>
<text x="1102.8" y="814" textLength="128" lengthAdjust="spacingAndGlyphs">2024/6/21</text>
<text x="1248" y="814" textLength="128" lengthAdjust="spacingAndGlyphs">2024/7/12</text>
</g>
<rect x="69.5" y="818" width="1435.5" height="117" fill="#fff" stroke="#222" stroke-width="1.7"/>
<g class="t" font-size="25" fill="#222">
<text x="89" y="844" textLength="54" lengthAdjust="spacingAndGlyphs">上段:</text>
<text x="239" y="844" textLength="183" lengthAdjust="spacingAndGlyphs">単純移動平均(5)</text>
<text x="530" y="844" textLength="199" lengthAdjust="spacingAndGlyphs">単純移動平均(25)</text>
<text x="858" y="844" textLength="197" lengthAdjust="spacingAndGlyphs">単純移動平均(50)</text>
<text x="89" y="920" textLength="54" lengthAdjust="spacingAndGlyphs">下段:</text>
<text x="239" y="920" textLength="304" lengthAdjust="spacingAndGlyphs">出来高 単位:(1000株/口/枚)</text>
</g>
<rect x="159.7" y="833.6" width="70.3" height="2.8" fill="#9acd32"/>
<rect x="450" y="833.6" width="70.6" height="2.8" fill="#9b3bff"/>
<rect x="776" y="833.6" width="69" height="2.8" fill="#ff5a36"/>
<rect x="159.7" y="908" width="70.3" height="6.5" fill="#666"/>
<text class="t" x="1197.6" y="968" font-size="23" fill="#777" textLength="265" lengthAdjust="spacingAndGlyphs">(c)Quants Research Inc.</text>
</svg>
</body></html>
